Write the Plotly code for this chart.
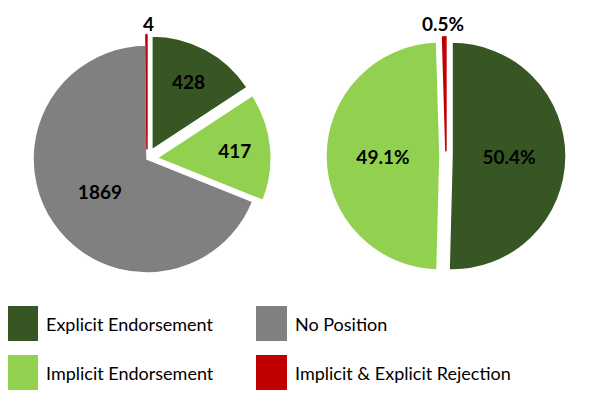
import plotly.graph_objects as go

# ---- data ----
categories = ["Explicit Endorsement", "Implicit Endorsement", "No Position", "Implicit & Explicit Rejection"]
counts = [428, 417, 1869, 4]
colors = ["#375623", "#92D050", "#808080", "#C00000"]

# right pie: positions only (no "No Position")
pos_categories = ["Explicit Endorsement", "Implicit Endorsement", "Implicit & Explicit Rejection"]
pos_counts = [428, 417, 4]
pos_colors = ["#375623", "#92D050", "#C00000"]

# legend layout order (two columns)
legend_order = ["Explicit Endorsement", "Implicit Endorsement", "No Position", "Implicit & Explicit Rejection"]

W, H = 593, 398
OFF = 8  # page body margin compensation
FONT = "Lato"

# pie geometry (pixels): centre, radius, pulls
L_CX, L_CY, L_R = 147, 159, 114
R_CX, R_CY, R_R = 446, 156, 114
left_pull = [0.09, 0.09, 0.0, 0.09]
right_pull = [0.053, 0.053, 0.045]


def px_x(x):
    return (x - OFF) / W


def px_y(y):
    return 1 - (y - OFF) / H


def dom(cx, cy, half):
    return dict(x=[px_x(cx - half), px_x(cx + half)], y=[px_y(cy + half), px_y(cy - half)])


label_font = dict(family=FONT, size=19, color="black", weight="bold")

fig = go.Figure()

fig.add_trace(go.Pie(
    labels=categories, values=counts, sort=False, direction="clockwise", rotation=0,
    pull=left_pull,
    marker=dict(colors=colors,
                line=dict(color=["white", "white", "white", "#C00000"], width=[1.5, 1.5, 1.5, 1.5])),
    texttemplate="%{value}",
    textposition=["inside", "inside", "inside", "none"],
    insidetextorientation="horizontal",
    textfont=label_font,
    domain=dom(L_CX, L_CY, L_R * (1 + max(left_pull))),
    showlegend=False, hoverinfo="label+value",
))

fig.add_trace(go.Pie(
    labels=pos_categories, values=pos_counts, sort=False, direction="clockwise", rotation=0,
    pull=right_pull,
    marker=dict(colors=pos_colors,
                line=dict(color=["white", "white", "#C00000"], width=[1.5, 1.5, 1.5])),
    texttemplate="%{percent:.1%}",
    textposition=["inside", "inside", "none"],
    insidetextorientation="horizontal",
    textfont=label_font,
    domain=dom(R_CX, R_CY, R_R * (1 + max(right_pull))),
    showlegend=False, hoverinfo="label+percent",
))

# labels of the tiny rejection slices, centred above the pulled slice
rej_count = counts[3]
rej_share = pos_counts[2] / sum(pos_counts)
fig.add_annotation(xref="paper", yref="paper", x=px_x(L_CX + 1),
                   y=px_y(L_CY - L_R * (1 + left_pull[3]) - 11),
                   text=f"{rej_count}", showarrow=False, xanchor="center", yanchor="middle",
                   font=label_font)
fig.add_annotation(xref="paper", yref="paper", x=px_x(R_CX - 3),
                   y=px_y(R_CY - R_R * (1 + right_pull[2]) - 13),
                   text=f"{rej_share:.1%}", showarrow=False, xanchor="center", yanchor="middle",
                   font=label_font)

# custom legend (two columns, big square swatches)
color_of = dict(zip(categories, colors))
col_x = [7, 256]
row_y = [306, 355]
sw_w, sw_h = 31, 35
for i, name in enumerate(legend_order):
    col, row = i // 2, i % 2
    x0, y0 = col_x[col], row_y[row]
    fig.add_shape(type="rect", xref="paper", yref="paper",
                  x0=px_x(x0), x1=px_x(x0 + sw_w), y0=px_y(y0 + sw_h), y1=px_y(y0),
                  fillcolor=color_of[name], line=dict(width=0))
    fig.add_annotation(xref="paper", yref="paper", x=px_x(x0 + sw_w + 6), y=px_y(y0 + sw_h / 2),
                       text=name, showarrow=False, xanchor="left", yanchor="middle",
                       font=dict(family=FONT, size=18, color="black"))

fig.update_layout(width=W, height=H,
                  margin=dict(l=0, r=0, t=0, b=0, autoexpand=False),
                  paper_bgcolor="white", plot_bgcolor="white", showlegend=False)

fig.write_html("out.html")
